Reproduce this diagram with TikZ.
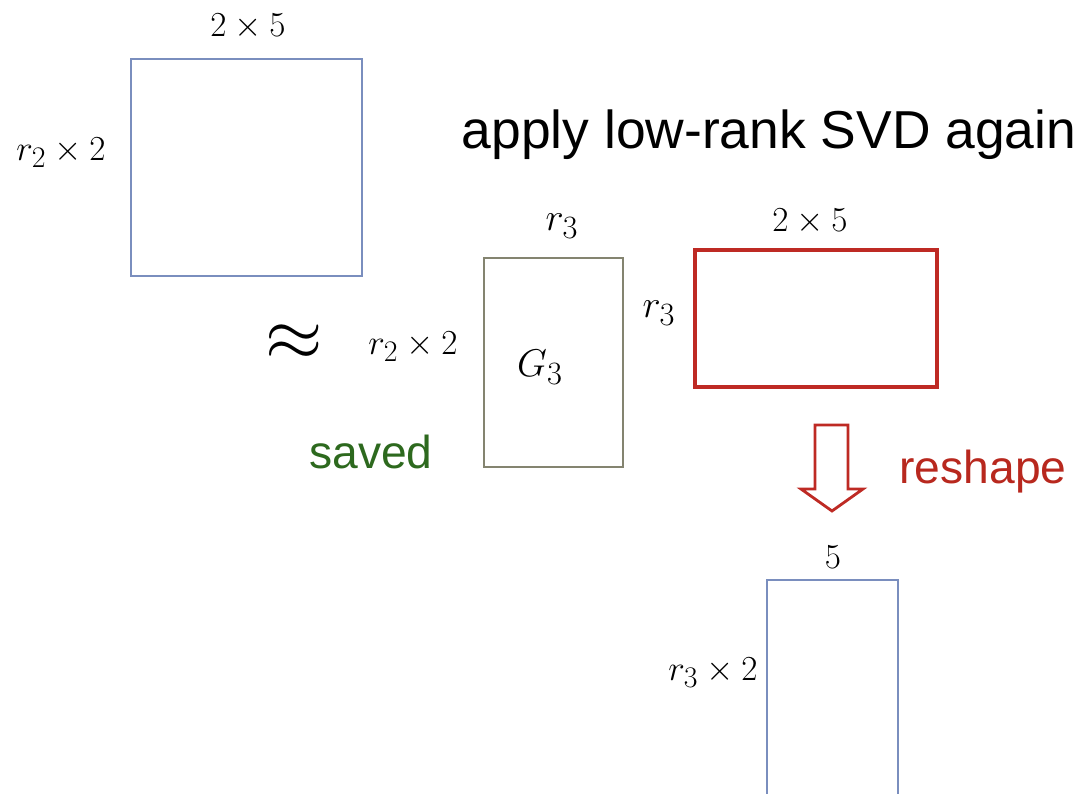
\documentclass[tikz,border=0pt]{standalone}
\usepackage{fix-cm}
\usepackage{amsmath}
\usepackage{fontspec}
\newfontfamily\arialike{Liberation Sans}
\DeclareMathSizes{20}{20}{17}{14}
\DeclareMathSizes{22}{22}{18.5}{15}
\definecolor{matblue}{RGB}{122,142,190}
\definecolor{matgrey}{RGB}{132,132,112}
\definecolor{boxred}{RGB}{190,42,36}
\definecolor{textred}{RGB}{184,40,30}
\definecolor{savedgreen}{RGB}{45,105,30}
\tikzset{
	box/.style 2 args={draw,inner sep=0pt,minimum width=#1,minimum height=#2},
	lab/.style={inner sep=0pt,font=\fontsize{20}{24}\selectfont},
	biglab/.style={inner sep=0pt,font=\fontsize{22}{26}\selectfont},
	word/.style={inner sep=0pt,font=\arialike\fontsize{26.3}{30}\selectfont}
}
\begin{document}
\begin{tikzpicture}[x=0.02cm,y=-0.02cm]
	\clip (0,0) rectangle (1083,794);
	\node [box={4.62cm}{4.34cm},draw=matblue,line width=0.8pt] (A) at (246.5,167.5) {};
	\node [lab] (Atop) at (248,27) {$2\times5$};
	\node [lab] (Aleft) at (61,153) {$r_2\times2$};

	\node [inner sep=0pt,font=\arialike\fontsize{30.4}{36}\selectfont] (title) at (769,135) {apply low-rank SVD again};

	\node [inner sep=0pt,font=\fontsize{42}{44}\selectfont] (approx) at (294,343) {$\approx$};
	\node [lab] (Gleft) at (413,347) {$r_2\times2$};
	\node [box={2.78cm}{4.18cm},draw=matgrey,line width=0.8pt] (G) at (553.5,362.5) {};
	\node [biglab] (Gname) at (540,367) {$G_3$};
	\node [biglab] (Gtop) at (562,226) {$r_3$};

	\node [box={4.84cm}{2.74cm},draw=boxred,line width=2.8pt] (R) at (816,318.5) {};
	\node [lab] (Rtop) at (810,222) {$2\times5$};
	\node [biglab] (Rleft) at (659,313) {$r_3$};

	\node [word,text=savedgreen] (saved) at (371,452) {saved};

	\draw [boxred,line width=1.6pt,line join=miter] (815,425) -- (848,425) -- (848,489) -- (863,489) -- (832,511) -- (801,489) -- (815,489) -- cycle;
	\node [word,text=textred] (reshape) at (983,472) {reshape};

	\node [box={2.62cm}{5.4cm},draw=matblue,line width=0.8pt] (B) at (832.5,715) {};
	\node [lab] (Btop) at (833,557) {$5$};
	\node [lab] (Bleft) at (713,673) {$r_3\times2$};
\end{tikzpicture}
\end{document}
